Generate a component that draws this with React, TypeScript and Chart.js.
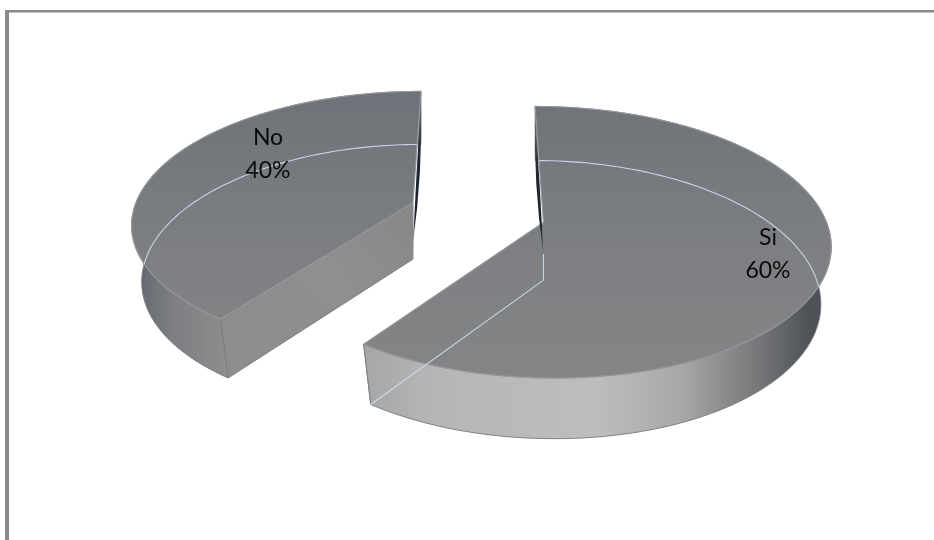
import React, { useEffect, useRef } from "react";
import { Chart, registerables } from "chart.js";

Chart.register(...registerables);

const categories = ["Si", "No"];
const percentValues = [60, 40];

// Projection of the flat pie onto the page (a tilted view with perspective)
const VIEW = { cx: 477.5, cy: 212.5, rx: 280, ry: 130, p: 0.144, depth: 57, baseShrink: 0.035 };
const LABEL_CENTRES = [
  { x: 768, y: 254.5 },
  { x: 268, y: 154.5 },
];

type P = [number, number];

function project(x: number, y: number, z = 0): P {
  const w = 1 - VIEW.p * y;
  return [VIEW.cx + (VIEW.rx * x) / w, VIEW.cy + (VIEW.ry * y + VIEW.depth * z) / w];
}

function sliceGeometry(arc: any) {
  const R = arc.outerRadius;
  const mid = (arc.startAngle + arc.endAngle) / 2;
  // Chart.js moves an arc by a quarter of its offset option
  const d = (arc.options.offset || 0) / 4 / R;
  const ax = d * Math.cos(mid);
  const ay = d * Math.sin(mid);
  const rim = (a: number, z = 0) => {
    const r = 1 - VIEW.baseShrink * z;
    return project(ax + r * Math.cos(a), ay + r * Math.sin(a), z);
  };
  const apex = (z = 0) => project(ax, ay, z);
  return { rim, apex, start: arc.startAngle, end: arc.endAngle };
}

function rimPoints(g: any, z: number, from: number, to: number): P[] {
  const n = 120;
  const pts: P[] = [];
  for (let i = 0; i <= n; i++) pts.push(g.rim(from + ((to - from) * i) / n, z));
  return pts;
}

function trace(ctx: CanvasRenderingContext2D, pts: P[], close = true) {
  ctx.beginPath();
  pts.forEach((p, i) => (i ? ctx.lineTo(p[0], p[1]) : ctx.moveTo(p[0], p[1])));
  if (close) ctx.closePath();
}

function wallGradient(ctx: CanvasRenderingContext2D, isLarge: boolean) {
  if (isLarge) {
    const g = ctx.createLinearGradient(364, 0, 830, 0);
    g.addColorStop(0, "#a6a6a6");
    g.addColorStop(0.15, "#b6b6b6");
    g.addColorStop(0.5, "#bdbdbd");
    g.addColorStop(0.68, "#a8a8a8");
    g.addColorStop(0.85, "#747577");
    g.addColorStop(0.95, "#505459");
    g.addColorStop(1, "#4a4e54");
    return g;
  }
  const g = ctx.createLinearGradient(134, 0, 228, 0);
  g.addColorStop(0, "#3d4249");
  g.addColorStop(0.12, "#6a6e74");
  g.addColorStop(0.4, "#7c7e82");
  g.addColorStop(1, "#8e8e8e");
  return g;
}

const piePlugin = {
  id: "tiltedPie",
  beforeDatasetDraw(chart: any, args: any) {
    const ctx: CanvasRenderingContext2D = chart.ctx;
    const arcs = chart.getDatasetMeta(args.index).data;
    const edge = "rgba(122,125,130,0.95)";
    const light = "rgba(208,222,242,0.9)";

    // frame of the picture
    ctx.fillStyle = "#8a8a8a";
    ctx.fillRect(5, 10, 929, 2.5);
    ctx.fillRect(5, 10, 4, 530);

    const topFill = ctx.createLinearGradient(0, 92, 0, 380);
    topFill.addColorStop(0, "#6e7379");
    topFill.addColorStop(0.55, "#7d7f82");
    topFill.addColorStop(1, "#848586");

    arcs.forEach((arc: any, i: number) => {
      const g = sliceGeometry(arc);
      const large = percentValues[i] > 50;
      const cornerAngle = large ? g.end : g.start;
      const backAngle = large ? g.start : g.end;

      // cut face that runs from the centre to the front corner
      const face = ctx.createLinearGradient(220, 380, 415, 200);
      face.addColorStop(0, "#8d8d8d");
      face.addColorStop(0.6, "#8f8f8f");
      face.addColorStop(1, "#878787");
      trace(ctx, [g.apex(0), g.rim(cornerAngle, 0), g.rim(cornerAngle, 1), g.apex(1)]);
      ctx.fillStyle = face;
      ctx.fill();
      ctx.strokeStyle = edge;
      ctx.lineWidth = 1;
      ctx.stroke();

      // outer wall
      const top = rimPoints(g, 0, g.start, g.end);
      const bottom = rimPoints(g, 1, g.start, g.end).reverse();
      trace(ctx, top.concat(bottom));
      ctx.fillStyle = wallGradient(ctx, large);
      ctx.fill();
      ctx.stroke();

      // top surface
      const outline = [g.apex(0), ...top];
      trace(ctx, outline);
      ctx.fillStyle = topFill;
      ctx.fill();
      ctx.strokeStyle = "rgba(150,152,156,0.95)";
      ctx.lineWidth = 1.2;
      ctx.stroke();

      // the far edge of the base, seen through the top
      ctx.save();
      trace(ctx, outline);
      ctx.clip();
      trace(ctx, rimPoints(g, 1, g.start, g.end), false);
      ctx.strokeStyle = light;
      ctx.lineWidth = 1.1;
      ctx.stroke();
      ctx.restore();

      // dark sliver of the back cut face
      const backTop = g.rim(backAngle, 0.12);
      const a1 = g.apex(large ? 0.55 : 0.72);
      const dir = large ? -1 : 1;
      const mx = (backTop[0] + a1[0]) / 2 + dir * 6;
      const my = (backTop[1] + a1[1]) / 2;
      const dark = ctx.createLinearGradient(0, backTop[1], 0, a1[1]);
      dark.addColorStop(0, "rgba(90,95,102,0.6)");
      dark.addColorStop(0.35, "#232a33");
      dark.addColorStop(0.8, "#1a2029");
      dark.addColorStop(1, "rgba(60,66,74,0.7)");
      ctx.beginPath();
      ctx.moveTo(backTop[0], backTop[1]);
      ctx.quadraticCurveTo(mx, my, a1[0], a1[1]);
      ctx.quadraticCurveTo((backTop[0] + a1[0]) / 2 - dir * 0.5, my, backTop[0], backTop[1]);
      ctx.closePath();
      ctx.fillStyle = dark;
      ctx.fill();

      if (large) {
        // edges of the base: centre to front corner, and the short upright
        const b = g.apex(1);
        const c = g.rim(cornerAngle, 1);
        ctx.strokeStyle = light;
        ctx.lineWidth = 1.1;
        trace(ctx, [b, c], false);
        ctx.stroke();
        trace(ctx, [g.apex(0.55), b], false);
        ctx.stroke();
      }

      // label
      ctx.fillStyle = "#0a0a0a";
      ctx.font = '23px Lato, "Open Sans", sans-serif';
      ctx.textAlign = "center";
      ctx.textBaseline = "middle";
      const pos = LABEL_CENTRES[i];
      ctx.fillText(categories[i], pos.x, pos.y - 16.5);
      ctx.fillText(percentValues[i] + "%", pos.x, pos.y + 16.5);
    });
    return false;
  },
};

export default function App() {
  const ref = useRef<HTMLCanvasElement>(null);
  useEffect(() => {
    const chart = new Chart(ref.current!, {
      type: "pie",
      data: {
        labels: categories,
        datasets: [{ data: percentValues, offset: 196, borderWidth: 0, backgroundColor: "#7d7f82" }],
      },
      options: {
        animation: false,
        responsive: false,
        radius: 200,
        rotation: 0,
        plugins: { legend: { display: false }, tooltip: { enabled: false } },
      } as any,
      plugins: [piePlugin],
    });
    return () => chart.destroy();
  }, []);
  return (
    <canvas
      ref={ref}
      width={934}
      height={540}
      style={{ position: "fixed", left: 0, top: 0, width: 934, height: 540, background: "#fff" }}
    />
  );
}
